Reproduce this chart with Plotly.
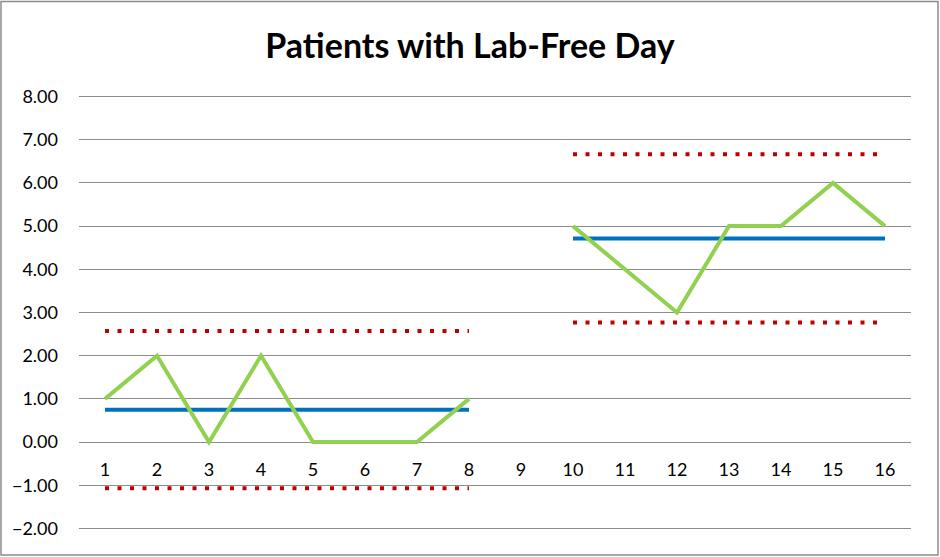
import plotly.graph_objects as go

categories = [str(i) for i in range(1, 17)]
patients = [1, 2, 0, 2, 0, 0, 0, 1, None, 5, 4, 3, 5, 5, 6, 5]
mean_line = [0.75]*8 + [None] + [4.71]*7
ucl = [2.57]*8 + [None] + [6.66]*7
lcl = [-1.07]*8 + [None] + [2.77]*7
y_ticks = [-2, -1, 0, 1, 2, 3, 4, 5, 6, 7, 8]

FONT = "Lato, Carlito, Calibri, sans-serif"
RED = "#C00000"

fig = go.Figure()
fig.add_trace(go.Scatter(x=categories, y=ucl, mode="lines",
                         line=dict(color=RED, width=4, dash="4px,8.5px"), name="UCL"))
fig.add_trace(go.Scatter(x=categories, y=lcl, mode="lines",
                         line=dict(color=RED, width=4, dash="4px,8.5px"), name="LCL"))
fig.add_trace(go.Scatter(x=categories, y=mean_line, mode="lines",
                         line=dict(color="#0070C0", width=4), name="Mean"))
fig.add_trace(go.Scatter(x=categories, y=patients, mode="lines",
                         line=dict(color="#92D050", width=4), name="Patients"))

pad = 0.15
ppu = 43.2
fig.update_layout(
    width=940, height=557,
    margin=dict(l=79, r=29, t=96.5 - pad*ppu, b=28.5 - pad*ppu),
    paper_bgcolor="white", plot_bgcolor="white",
    showlegend=False,
    font=dict(family=FONT, size=18, color="black"),
    title=dict(text="<b>Patients with Lab-Free Day</b>", x=0.5, xanchor="center",
               y=1 - 46/557, yref="container", yanchor="middle",
               font=dict(family=FONT, size=34, color="black")),
    xaxis=dict(type="category", categoryorder="array", categoryarray=categories,
               range=[-0.5, 15.5], showgrid=False, zeroline=False, showline=False,
               anchor="free", position=(2 + pad) / (10 + 2*pad), ticks="",
               tickfont=dict(size=18), ticklabelstandoff=15),
    yaxis=dict(range=[-2 - pad, 8 + pad], tickvals=y_ticks, tickformat=".2f",
               showgrid=True, gridcolor="#8c8c8c", gridwidth=1, zeroline=False,
               showline=False, ticks="", tickfont=dict(size=18),
               ticklabelstandoff=20),
)
# outer chart border, in paper units relative to the plot area
h = 432 + 2*pad*ppu
y_bot = 528.5 + pad*ppu
fig.add_shape(type="rect", xref="paper", yref="paper",
              x0=-78/832, x1=859/832, y0=(y_bot - 555)/h, y1=(y_bot - 1.5)/h,
              line=dict(color="#8c8c8c", width=1.5), fillcolor="rgba(0,0,0,0)")

fig.write_html("out.html")
